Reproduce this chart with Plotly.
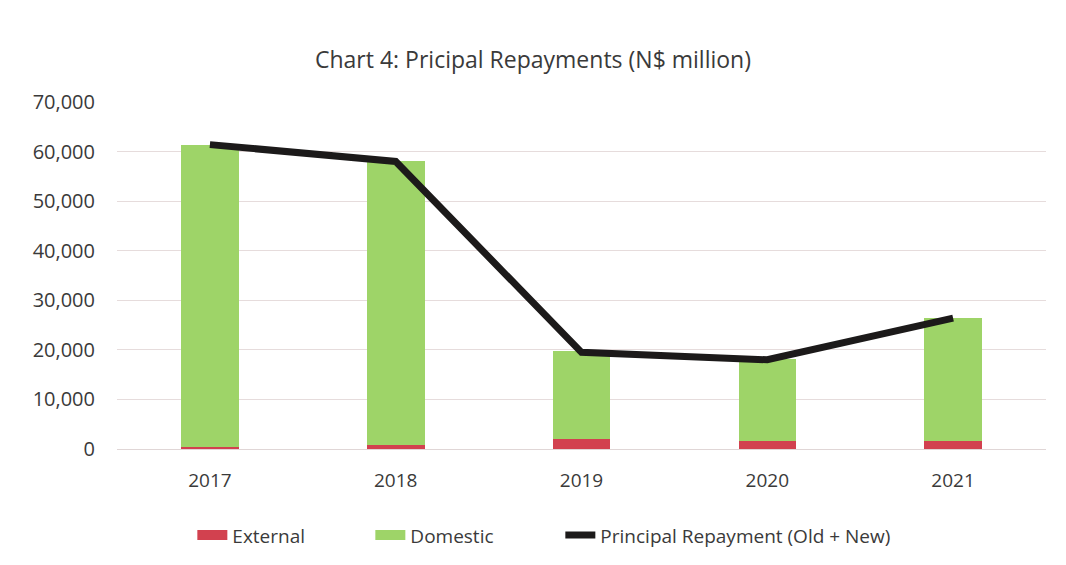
import plotly.graph_objects as go

# Principal repayments, N$ million
years = ["2017", "2018", "2019", "2020", "2021"]
external = [500, 800, 2000, 1600, 1700]
domestic = [60900, 57200, 17700, 16500, 24700]
total_repayment = [61400, 58000, 19500, 18000, 26400]

y_ticks = [0, 10000, 20000, 30000, 40000, 50000, 60000, 70000]
y_tick_text = ["0", "10,000", "20,000", "30,000", "40,000", "50,000", "60,000", "70,000"]

FONT = "Open Sans"
TEXT = "#3a3a3a"
RED = "#d2414f"
GREEN = "#9ed468"
BLACK = "#1c1a1a"

fig = go.Figure()
fig.add_trace(go.Bar(x=years, y=external, name="External", showlegend=False,
                     legendgroup="ext", marker=dict(color=RED, line=dict(width=0))))
fig.add_trace(go.Bar(x=years, y=domestic, name="Domestic", showlegend=False,
                     legendgroup="dom", marker=dict(color=GREEN, line=dict(width=0))))
fig.add_trace(go.Scatter(x=years, y=total_repayment, mode="lines",
                         name="Principal Repayment (Old + New)", showlegend=False,
                         legendgroup="tot", line=dict(color=BLACK, width=7)))

# wide legend swatches for each series
for name, color, width, group, lw in [("External", RED, 13, "ext", 133),
                                      ("Domestic", GREEN, 13, "dom", 145),
                                      ("Principal Repayment (Old + New)", BLACK, 7, "tot", None)]:
    fig.add_trace(go.Scatter(x=[None], y=[None], mode="lines", name=name,
                             legendgroup=group, legendwidth=lw,
                             line=dict(color=color, width=width)))

fig.update_layout(
    barmode="stack",
    bargap=0.69,
    width=1066, height=565,
    paper_bgcolor="white", plot_bgcolor="white",
    margin=dict(l=117, r=20, t=102, b=115),
    font=dict(family=FONT, color=TEXT, size=20),
    title=dict(text="Chart 4: Pricipal Repayments (N$ million)",
               x=0.5, xanchor="center", y=1 - 60 / 565, yref="container",
               yanchor="middle", font=dict(family=FONT, size=23, color=TEXT)),
    xaxis=dict(showgrid=False, showline=False, ticks="", zeroline=False,
               ticklabelstandoff=18, tickfont=dict(size=19, color=TEXT)),
    yaxis=dict(range=[0, 70000], tickvals=y_ticks, ticktext=y_tick_text,
               showgrid=True, gridcolor="#e6dcdc", gridwidth=1,
               zeroline=True, zerolinecolor="#e0d6d6", zerolinewidth=1,
               showline=False, ticks="", ticklabelstandoff=21,
               tickfont=dict(size=20, color=TEXT)),
    legend=dict(orientation="h", x=0.46, xanchor="center", y=-0.245,
                yanchor="middle", font=dict(size=19, color=TEXT),
                traceorder="normal"),
    showlegend=True,
)

fig.write_html("out.html")
